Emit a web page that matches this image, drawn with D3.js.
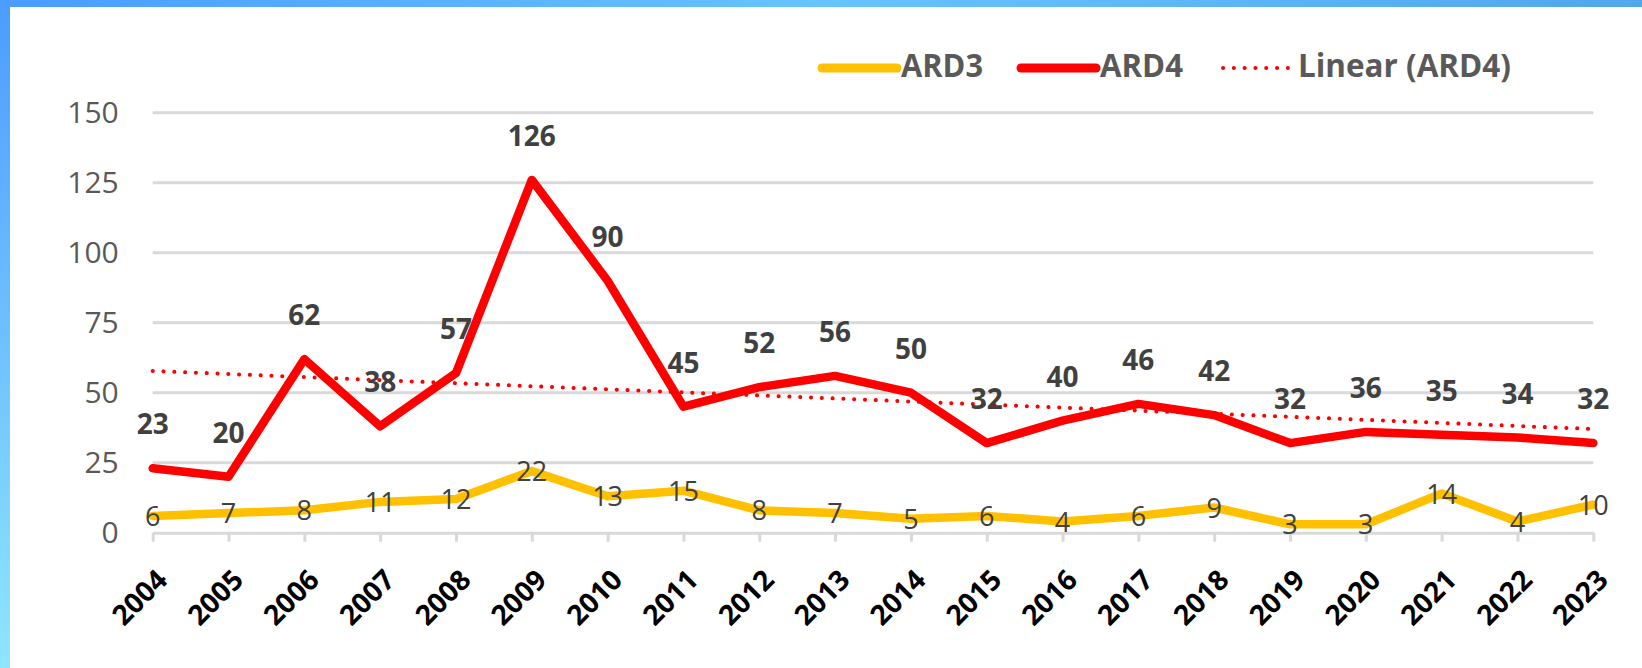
<!DOCTYPE html>
<html>
<head>
<meta charset="utf-8">
<script src="https://cdn.jsdelivr.net/npm/d3@7"></script>
<style>
  html, body { margin: 0; padding: 0; background: #fff; }
  svg { display: block; font-family: "Open Sans", sans-serif; }
</style>
</head>
<body>
<svg width="1642" height="668"></svg>
<script>
// years along the x axis
var years = ["2004", "2005", "2006", "2007", "2008", "2009", "2010", "2011", "2012", "2013",
             "2014", "2015", "2016", "2017", "2018", "2019", "2020", "2021", "2022", "2023"];
var ard3 = [6, 7, 8, 11, 12, 22, 13, 15, 8, 7, 5, 6, 4, 6, 9, 3, 3, 14, 4, 10];
var ard4 = [23, 20, 62, 38, 57, 126, 90, 45, 52, 56, 50, 32, 40, 46, 42, 32, 36, 35, 34, 32];
var yTicks = [0, 25, 50, 75, 100, 125, 150];
var legendItems = ["ARD3", "ARD4", "Linear (ARD4)"];

var svg = d3.select("svg");

// frame gradients
var defs = svg.append("defs");
var gTop = defs.append("linearGradient").attr("id", "gTop");
gTop.append("stop").attr("offset", "0").attr("stop-color", "#4a9cff");
gTop.append("stop").attr("offset", "0.5").attr("stop-color", "#66c4ff");
gTop.append("stop").attr("offset", "1").attr("stop-color", "#52a6ea");
var gLeft = defs.append("linearGradient").attr("id", "gLeft")
  .attr("x1", 0).attr("y1", 0).attr("x2", 0).attr("y2", 1);
gLeft.append("stop").attr("offset", "0").attr("stop-color", "#4a9cff");
gLeft.append("stop").attr("offset", "1").attr("stop-color", "#90e6ff");

svg.append("rect").attr("x", 0).attr("y", 0).attr("width", 1642).attr("height", 7).attr("fill", "url(#gTop)");
svg.append("rect").attr("x", 0).attr("y", 0).attr("width", 10).attr("height", 668).attr("fill", "url(#gLeft)");

var x = d3.scalePoint().domain(years).range([152.7, 1593.3]);
var y = d3.scaleLinear().domain([0, 150]).range([532.7, 112.7]);

// gridlines
svg.append("g")
  .selectAll("line")
  .data(yTicks.filter(d => d > 0))
  .enter().append("line")
    .attr("x1", x.range()[0]).attr("x2", x.range()[1])
    .attr("y1", d => y(d)).attr("y2", d => y(d))
    .attr("stroke", "#d9d9d9").attr("stroke-width", 3);

// y axis labels
var yAxis = svg.append("g")
  .attr("transform", "translate(" + (x.range()[0] - 34) + ",0)")
  .call(d3.axisLeft(y).tickValues(yTicks).tickSize(0).tickPadding(0));
yAxis.select(".domain").remove();
yAxis.selectAll("text")
  .attr("font-size", 30).attr("fill", "#595959")
  .attr("font-family", "Open Sans, sans-serif");

// x axis
var xAxis = svg.append("g")
  .attr("transform", "translate(0," + y(0) + ")")
  .call(d3.axisBottom(x).tickSize(9).tickSizeOuter(0));
xAxis.select(".domain").attr("stroke", "#d9d9d9").attr("stroke-width", 3);
xAxis.selectAll(".tick line").attr("stroke", "#d9d9d9").attr("stroke-width", 3);
xAxis.selectAll("text")
  .attr("font-size", 28).attr("font-weight", "bold").attr("fill", "#000")
  .attr("font-family", "Open Sans, sans-serif")
  .attr("text-anchor", "end")
  .attr("y", 0).attr("dy", 0)
  .attr("transform", "translate(16,49) rotate(-45)");

// linear trend of ARD4
var n = ard4.length;
var mx = d3.mean(ard4, (d, i) => i);
var my = d3.mean(ard4);
var slope = d3.sum(ard4, (d, i) => (i - mx) * (d - my)) / d3.sum(ard4, (d, i) => (i - mx) * (i - mx));
var icpt = my - slope * mx;
var trend = [0, n - 1].map(i => ({ year: years[i], value: icpt + slope * i }));

var line = d3.line().x(d => x(d.year)).y(d => y(d.value));

svg.append("path")
  .datum(trend)
  .attr("d", line)
  .attr("fill", "none")
  .attr("stroke", "#ff0000")
  .attr("stroke-width", 4)
  .attr("stroke-linecap", "round")
  .attr("stroke-dasharray", "0.1 10.7");

var ard3Data = years.map((yr, i) => ({ year: yr, value: ard3[i] }));
var ard4Data = years.map((yr, i) => ({ year: yr, value: ard4[i] }));

svg.append("path")
  .datum(ard3Data)
  .attr("d", line)
  .attr("fill", "none")
  .attr("stroke", "#ffc000")
  .attr("stroke-width", 8.5)
  .attr("stroke-linejoin", "round")
  .attr("stroke-linecap", "round");

svg.append("path")
  .datum(ard4Data)
  .attr("d", line)
  .attr("fill", "none")
  .attr("stroke", "#ff0000")
  .attr("stroke-width", 8.5)
  .attr("stroke-linejoin", "round")
  .attr("stroke-linecap", "round");

// data labels
svg.append("g")
  .selectAll("text")
  .data(ard3Data)
  .enter().append("text")
    .attr("x", d => x(d.year))
    .attr("y", d => y(d.value) + 10)
    .attr("text-anchor", "middle")
    .attr("font-size", 27)
    .attr("fill", "#404040")
    .text(d => d.value);

svg.append("g")
  .selectAll("text")
  .data(ard4Data)
  .enter().append("text")
    .attr("x", d => x(d.year))
    .attr("y", d => y(d.value) - 34)
    .attr("text-anchor", "middle")
    .attr("font-size", 28)
    .attr("font-weight", "bold")
    .attr("fill", "#404040")
    .text(d => d.value);

// legend
var legend = svg.append("g");
var legX = [822, 1021, 1223];
var legW = [82, 83, 213];
legendItems.forEach((name, i) => {
  var g = legend.append("g");
  var ln = g.append("line")
    .attr("x1", legX[i]).attr("x2", legX[i] + (i < 2 ? 75 : 67))
    .attr("y1", 68).attr("y2", 68)
    .attr("stroke-linecap", "round");
  if (i === 0) ln.attr("stroke", "#ffc000").attr("stroke-width", 9);
  if (i === 1) ln.attr("stroke", "#ff0000").attr("stroke-width", 9);
  if (i === 2) ln.attr("stroke", "#ff0000").attr("stroke-width", 4).attr("stroke-dasharray", "0.1 10.7");
  g.append("text")
    .attr("x", legX[i] + (i < 2 ? 79 : 75))
    .attr("y", 77)
    .attr("font-size", 32)
    .attr("font-weight", "bold")
    .attr("fill", "#595959")
    .attr("textLength", legW[i])
    .attr("lengthAdjust", "spacingAndGlyphs")
    .text(name);
});
</script>
</body>
</html>
